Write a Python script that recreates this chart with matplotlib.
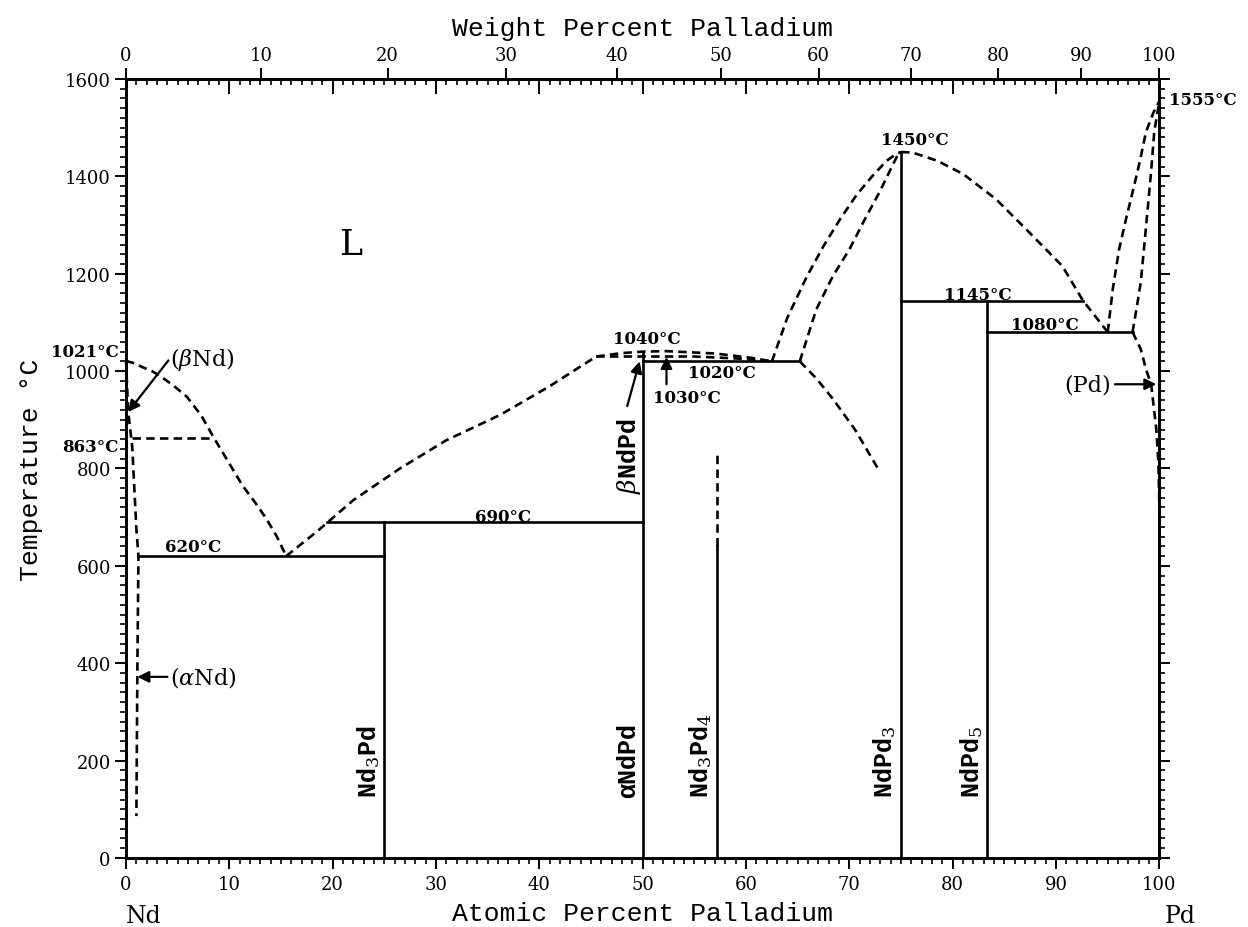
import numpy as np
import matplotlib.pyplot as plt
from matplotlib.ticker import MultipleLocator

plt.rcParams['mathtext.fontset'] = 'dejavuserif'
plt.rcParams['font.family'] = 'DejaVu Serif'

# molar masses, used for the weight percent scale
M_ND = 144.24
M_PD = 106.42

# --- phase boundaries (at.% Pd, deg C) ---
# liquidus from Nd down to the 620 eutectic
liq_nd_x = [0, 0.8, 1.6, 2.5, 3.3, 4.6, 5.9, 7.3, 8.5, 10.0, 11.3, 12.5, 13.6, 14.6, 15.5]
liq_nd_t = [1021, 1016, 1008, 1000, 990, 970, 947, 908, 863, 810, 764, 730, 696, 660, 620]
# liquidus from the eutectic up towards beta NdPd
liq_mid_x = [15.5, 18.5, 22.0, 26.5, 31.0, 36.2, 41.0, 43.5, 45.5]
liq_mid_t = [620, 671, 735, 800, 858, 910, 969, 1003, 1030]
# beta NdPd liquidus / solidus around the 1040 maximum
bndpd_up_x = [45.5, 48.0, 50.0, 52.3, 57.1, 60.6, 62.5]
bndpd_up_t = [1030, 1037, 1040, 1041, 1036, 1027, 1020]
bndpd_lo_x = [45.5, 50.0, 55.0, 60.0, 62.5]
bndpd_lo_t = [1030, 1030, 1030, 1025, 1020]
# NdPd3 liquidus (outer) and solidus (inner)
ndpd3_liq_x = [62.5, 64.0, 65.9, 67.5, 69.1, 70.7, 72.2, 73.6, 74.6, 75.0]
ndpd3_liq_t = [1020, 1110, 1195, 1257, 1312, 1362, 1400, 1432, 1447, 1450]
ndpd3_sol_x = [65.2, 66.8, 68.4, 70.0, 71.5, 72.9, 74.0, 74.7, 75.0]
ndpd3_sol_t = [1020, 1127, 1195, 1250, 1312, 1367, 1415, 1445, 1450]
ndpd3_solvus_x = [65.2, 66.8, 68.4, 70.6, 72.7]
ndpd3_solvus_t = [1020, 985, 943, 878, 802]
# liquidus from NdPd3 down to the 1080 eutectic
liq_r_x = [75.0, 76.1, 78.5, 81.0, 84.2, 87.4, 90.6, 92.6, 95.0]
liq_r_t = [1450, 1449, 1432, 1405, 1353, 1285, 1216, 1145, 1080]
# (Pd) side
liq_pd_x = [95.0, 95.5, 96.1, 96.8, 97.4, 98.1, 98.7, 99.4, 100.0]
liq_pd_t = [1080, 1170, 1250, 1315, 1367, 1430, 1491, 1530, 1555]
sol_pd_x = [97.4, 97.8, 98.2, 98.5, 98.8, 99.2, 99.5, 100.0]
sol_pd_t = [1080, 1130, 1183, 1250, 1318, 1410, 1491, 1555]
solv_pd_x = [97.4, 98.2, 98.7, 99.2, 99.7, 99.9, 100.0]
solv_pd_t = [1080, 1045, 1004, 973, 881, 813, 720]
# (beta Nd)/(alpha Nd) boundary on the Nd side
nd_sol_x = [0.0, 0.2, 0.6, 1.0, 1.2, 1.1, 1.0]
nd_sol_t = [1021, 918, 844, 676, 620, 400, 86]

# invariant lines: (x_start, x_end, T)
invariants_solid = [(1.2, 25.0, 620), (19.4, 50.0, 690), (50.0, 65.2, 1020),
                    (75.0, 92.6, 1145), (83.33, 97.4, 1080)]
invariants_dashed = [(0.6, 8.5, 863)]

# compounds: (at.% Pd, top T, label)
compounds = [(25.0, 690, 'Nd$_3$Pd'), (50.0, 1040, '\u03b1NdPd'),
             (57.14, 640, 'Nd$_3$Pd$_4$'), (75.0, 1450, 'NdPd$_3$'),
             (83.33, 1145, 'NdPd$_5$')]
nd3pd4_dashed_top = 836

# weight percent tick values on top
wt_ticks = np.arange(0, 101, 10)


def wt_to_at(w):
    w = np.asarray(w, dtype=float)
    a = w / M_PD
    b = (100 - w) / M_ND
    return 100 * a / (a + b)


fig = plt.figure(figsize=(12.48, 9.28), dpi=100)
ax = fig.add_axes([0.101, 0.0744, 0.828, 0.8394])

LW = 1.9
DASH = (3.2, 2.0)


def dashed(x, t):
    ax.plot(x, t, color='k', lw=LW, linestyle=(0, DASH), clip_on=False)


for xs, ts in [(liq_nd_x, liq_nd_t), (liq_mid_x, liq_mid_t),
               (bndpd_up_x, bndpd_up_t), (bndpd_lo_x, bndpd_lo_t),
               (ndpd3_liq_x, ndpd3_liq_t), (ndpd3_sol_x, ndpd3_sol_t),
               (ndpd3_solvus_x, ndpd3_solvus_t), (liq_r_x, liq_r_t),
               (liq_pd_x, liq_pd_t), (sol_pd_x, sol_pd_t),
               (solv_pd_x, solv_pd_t), (nd_sol_x, nd_sol_t)]:
    dashed(xs, ts)

for x0, x1, t in invariants_solid:
    ax.plot([x0, x1], [t, t], color='k', lw=LW)
for x0, x1, t in invariants_dashed:
    ax.plot([x0, x1], [t, t], color='k', lw=LW, linestyle=(0, DASH))

for x, top, lab in compounds:
    ax.plot([x, x], [0, top], color='k', lw=LW)
    ax.text(x - 0.25, 125, lab, rotation=90, ha='right', va='bottom',
            fontsize=18, family='Liberation Mono', fontweight='bold')
ax.plot([57.14, 57.14], [640, nd3pd4_dashed_top], color='k', lw=LW,
        linestyle=(0, DASH))

# temperature labels
tkw = dict(fontsize=12, fontweight='bold', ha='center', va='center')
ax.text(6.5, 639, '620\u00b0C', **tkw)
ax.text(36.5, 702, '690\u00b0C', **tkw)
ax.text(50.4, 1066, '1040\u00b0C', **tkw)
ax.text(57.7, 998, '1020\u00b0C', **tkw)
ax.text(54.3, 946, '1030\u00b0C', **tkw)
ax.text(76.3, 1476, '1450\u00b0C', **tkw)
ax.text(82.4, 1158, '1145\u00b0C', **tkw)
ax.text(88.9, 1096, '1080\u00b0C', **tkw)
ax.text(100.9, 1558, '1555\u00b0C', fontsize=12, fontweight='bold',
        ha='left', va='center', clip_on=False)
ax.text(-0.7, 1041, '1021\u00b0C', fontsize=12, fontweight='bold',
        ha='right', va='center', clip_on=False)
ax.text(-0.7, 846, '863\u00b0C', fontsize=12, fontweight='bold',
        ha='right', va='center', clip_on=False)

# phase labels
ax.text(21.7, 1261, 'L', fontsize=25, ha='center', va='center')
ax.text(4.3, 1025, r'($\beta$Nd)', fontsize=16, ha='left', va='center')
ax.text(4.3, 372, r'($\alpha$Nd)', fontsize=16, ha='left', va='center')
ax.text(95.3, 973, '(Pd)', fontsize=16, ha='right', va='center')
ax.text(48.7, 905, r'$\beta$NdPd', rotation=90, ha='center', va='top',
        fontsize=18, family='Liberation Mono', fontweight='bold')

akw = dict(arrowstyle='-|>', color='k', lw=1.6, mutation_scale=17,
           shrinkA=0, shrinkB=0)
ax.annotate('', xy=(0.2, 916), xytext=(4.1, 1022), arrowprops=akw)
ax.annotate('', xy=(49.7, 1020), xytext=(48.5, 928), arrowprops=akw)
ax.annotate('', xy=(52.3, 1029), xytext=(52.3, 973), arrowprops=akw)
ax.annotate('', xy=(1.1, 372), xytext=(4.0, 372), arrowprops=akw)
ax.annotate('', xy=(99.7, 973), xytext=(95.7, 973), arrowprops=akw)

# element labels under the axis
ax.text(0, -118, 'Nd', fontsize=17, ha='left', va='center', clip_on=False)
ax.text(100.5, -118, 'Pd', fontsize=17, ha='left', va='center', clip_on=False)

# axes and ticks
ax.set_xlim(0, 100)
ax.set_ylim(0, 1600)
ax.xaxis.set_major_locator(MultipleLocator(10))
ax.xaxis.set_minor_locator(MultipleLocator(1))
ax.yaxis.set_major_locator(MultipleLocator(200))
ax.yaxis.set_minor_locator(MultipleLocator(20))
ax.tick_params(axis='x', which='major', direction='out', length=8, width=1.4,
               labelsize=13, pad=4, top=False)
ax.tick_params(axis='x', which='minor', direction='out', length=4, width=1.2,
               top=False)
ax.tick_params(axis='y', which='major', direction='out', length=8, width=1.4,
               labelsize=13, right=True, pad=3)
ax.tick_params(axis='y', which='minor', direction='out', length=4, width=1.2,
               right=True)
for s in ax.spines.values():
    s.set_linewidth(1.8)

ax.set_xlabel('Atomic Percent Palladium', family='Liberation Mono',
              fontsize=19, labelpad=6)
ax.set_ylabel('Temperature \u00b0C', family='Liberation Mono', fontsize=19,
              labelpad=16)

# at.% ticks hanging inside from the top edge
top_at = ax.twiny()
top_at.set_xlim(0, 100)
top_at.xaxis.set_major_locator(MultipleLocator(10))
top_at.xaxis.set_minor_locator(MultipleLocator(1))
top_at.tick_params(axis='x', which='major', direction='in', length=11,
                   width=1.4, labeltop=False)
top_at.tick_params(axis='x', which='minor', direction='in', length=4,
                   width=1.2)

# weight percent scale
top_wt = ax.twiny()
top_wt.set_xlim(0, 100)
top_wt.set_xticks(wt_to_at(wt_ticks))
top_wt.set_xticklabels([str(v) for v in wt_ticks])
top_wt.tick_params(axis='x', which='major', direction='out', length=8,
                   width=1.4, labelsize=13, pad=3)
top_wt.set_xlabel('Weight Percent Palladium', family='Liberation Mono',
                  fontsize=19, labelpad=8)
for t in (top_at, top_wt):
    for s in t.spines.values():
        s.set_linewidth(1.8)

fig.savefig('out.png', dpi=100)
